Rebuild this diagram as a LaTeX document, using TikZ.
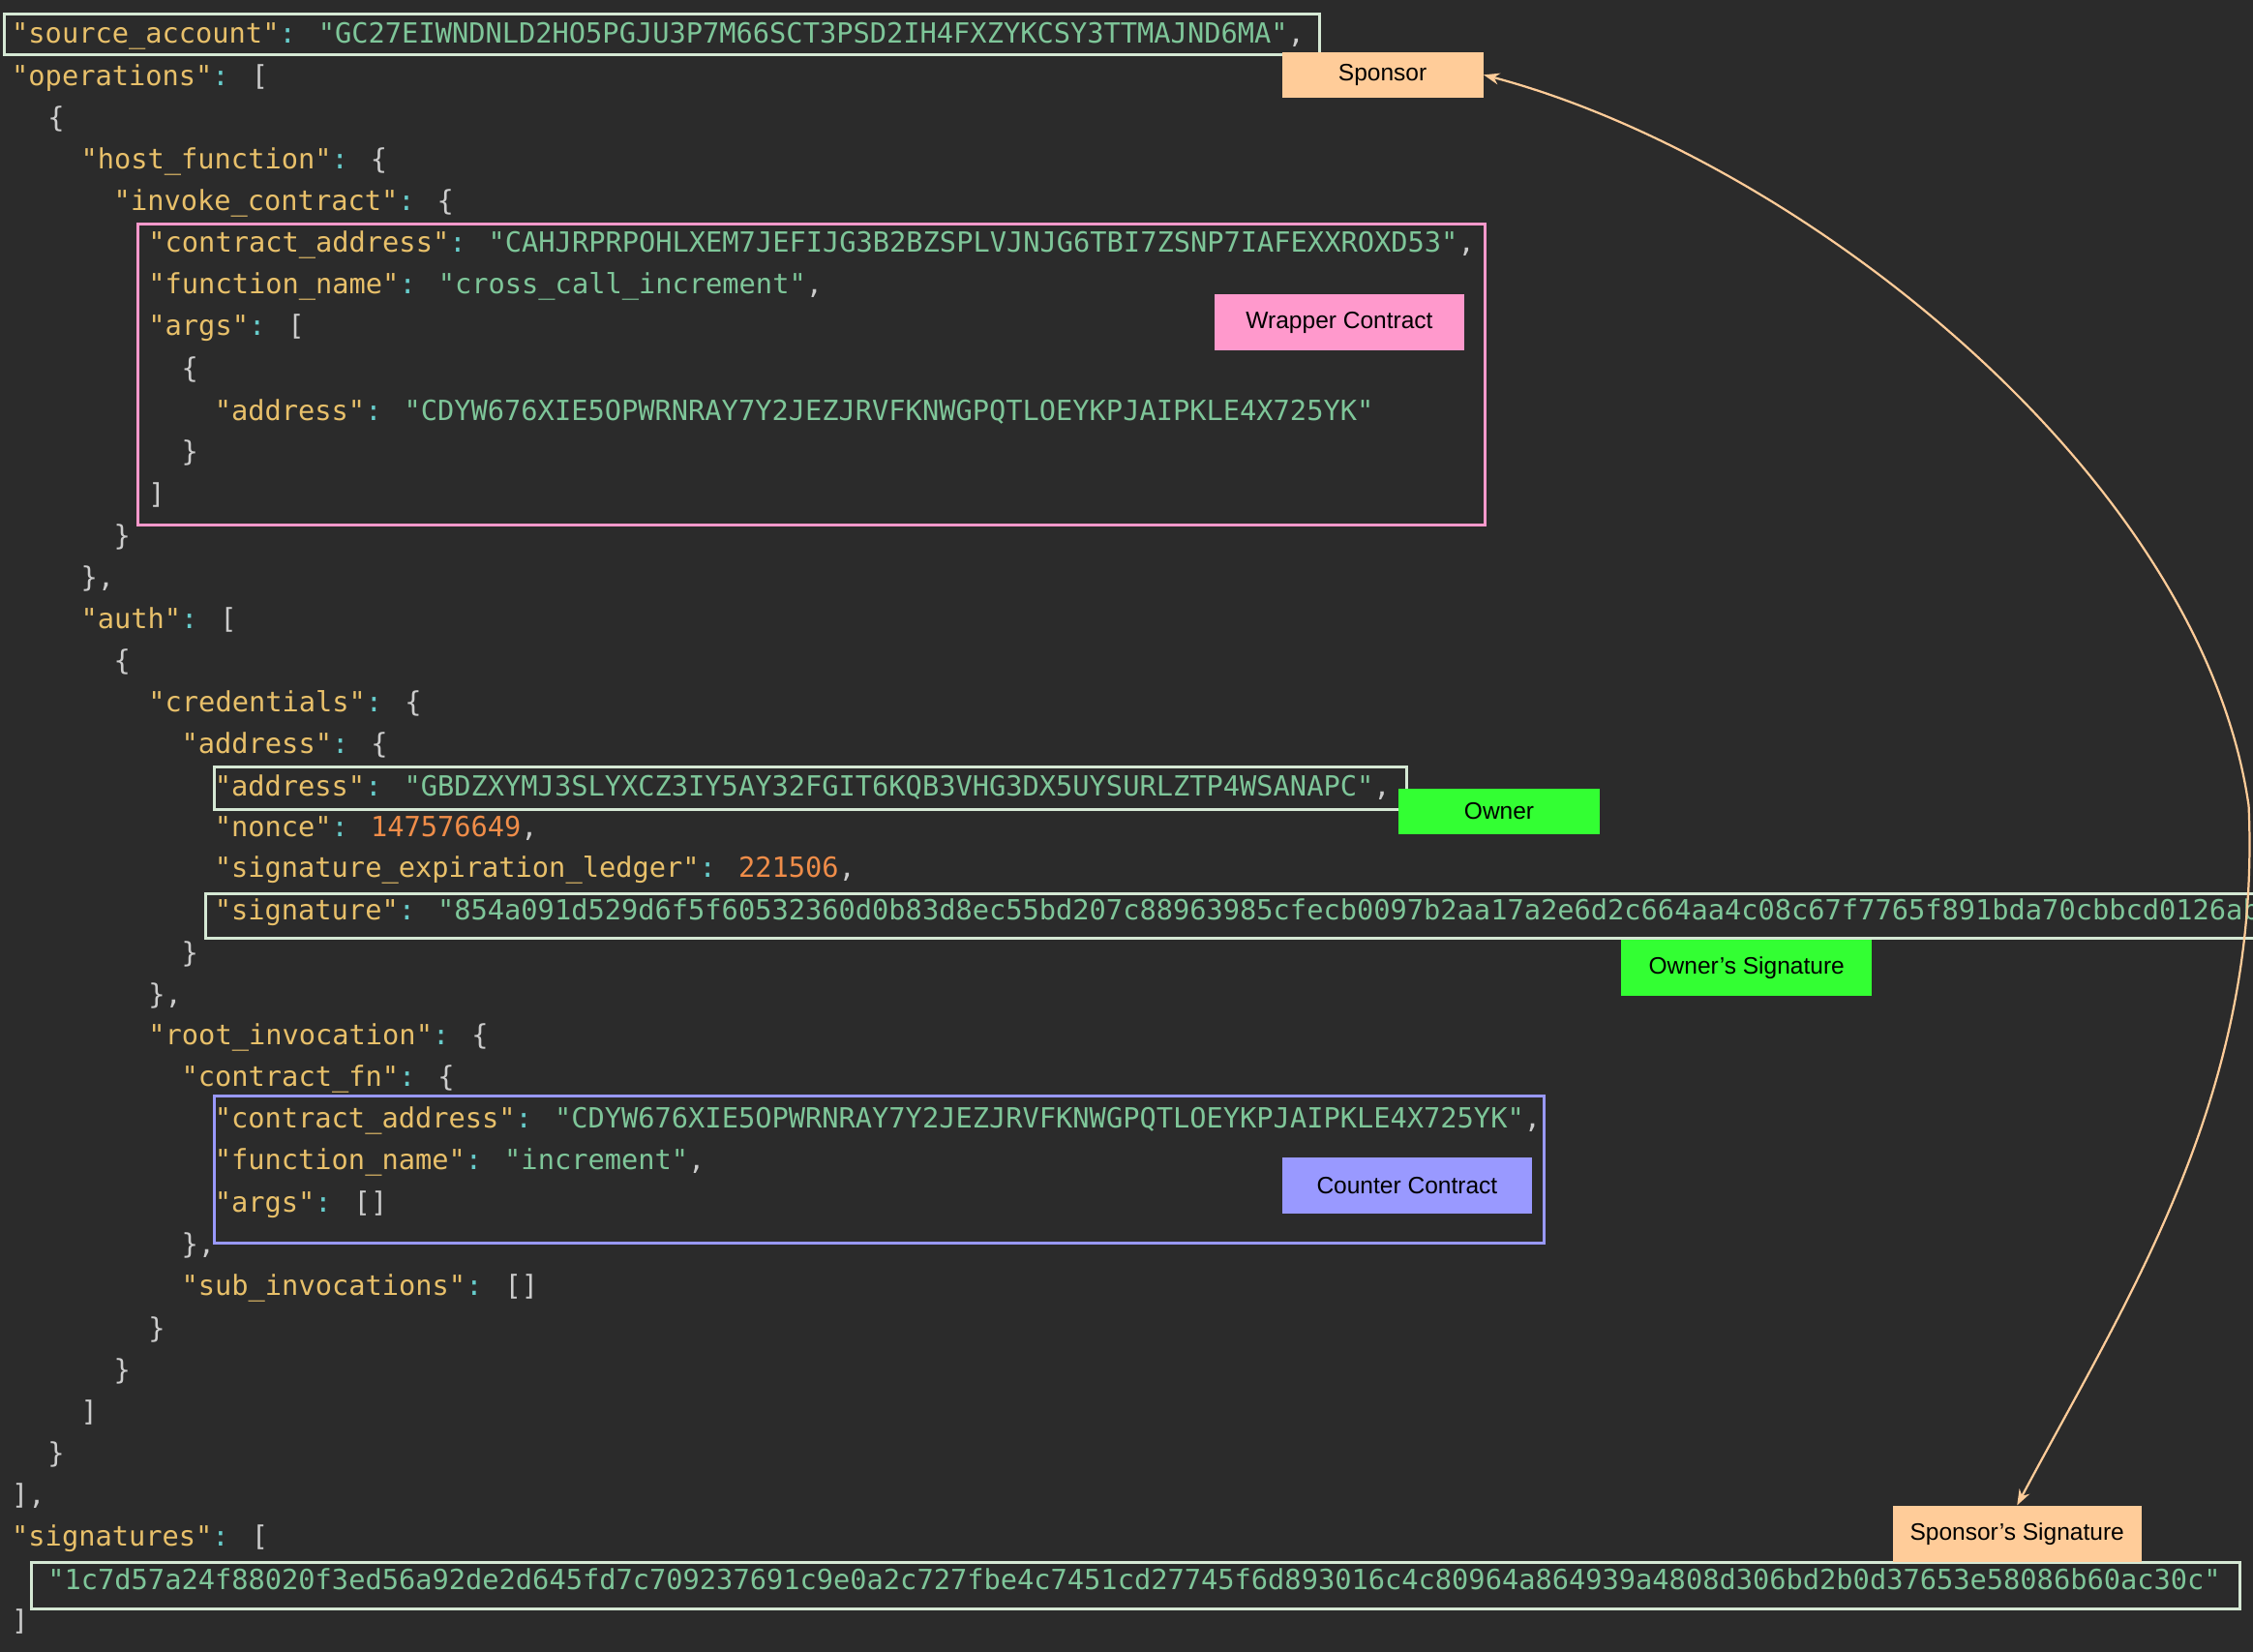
\documentclass[tikz,border=0pt]{standalone}
\usepackage{fontspec}
\usetikzlibrary{arrows.meta}
\newfontfamily\jmono{DejaVu Sans Mono}
\setmainfont{Liberation Sans}
\definecolor{bgc}{HTML}{2B2B2B}
\definecolor{keyc}{HTML}{E8C06A}
\definecolor{strc}{HTML}{7EC699}
\definecolor{numc}{HTML}{F08D49}
\definecolor{colc}{HTML}{67CDCC}
\definecolor{punc}{HTML}{CCCCCC}
\definecolor{boxc}{HTML}{D5E8D4}
\definecolor{peach}{HTML}{FFCC99}
\definecolor{pinkc}{HTML}{FF99CC}
\definecolor{greenc}{HTML}{33FF33}
\definecolor{bluec}{HTML}{9999FF}
\newcommand\jk[1]{\textcolor{keyc}{"#1"}\textcolor{colc}{:}}
\newcommand\js[1]{\textcolor{strc}{"#1"}}
\newcommand\jn[1]{\textcolor{numc}{#1}}
\begin{document}
\begin{tikzpicture}[x=1pt,y=-1pt,
  ln/.style={anchor=west,inner sep=0pt,font=\jmono\fontsize{19.3}{20}\selectfont,text=punc},
  hbox/.style={draw=#1,line width=2pt},
  lab/.style={fill=#1,inner sep=0pt,minimum width=140pt,minimum height=32pt,font=\fontsize{16.5}{18}\selectfont,text=black},
  conn/.style={draw=peach,line width=1.5pt,{Stealth[length=11pt,width=8pt]}-{Stealth[length=11pt,width=8pt]}}]
\fill[bgc] (0,0) rectangle (1566,1148);
\clip (0,0) rectangle (1566,1148);
\node[ln] (l1) at (8,25) {\jk{source\_account} \js{GC27EIWNDNLD2HO5PGJU3P7M66SCT3PSD2IH4FXZYKCSY3TTMAJND6MA},};
\node[ln] (l2) at (8,54) {\jk{operations} [};
\node[ln] (l3) at (33,83) {\{};
\node[ln] (l4) at (56,112) {\jk{host\_function} \{};
\node[ln] (l5) at (79,141) {\jk{invoke\_contract} \{};
\node[ln] (l6) at (103,170) {\jk{contract\_address} \js{CAHJRPRPOHLXEM7JEFIJG3B2BZSPLVJNJG6TBI7ZSNP7IAFEXXROXD53},};
\node[ln] (l7) at (103,199) {\jk{function\_name} \js{cross\_call\_increment},};
\node[ln] (l8) at (103,228) {\jk{args} [};
\node[ln] (l9) at (126,257) {\{};
\node[ln] (l10) at (149,286) {\jk{address} \js{CDYW676XIE5OPWRNRAY7Y2JEZJRVFKNWGPQTLOEYKPJAIPKLE4X725YK}};
\node[ln] (l11) at (126,315) {\}};
\node[ln] (l12) at (103,344) {]};
\node[ln] (l13) at (79,373) {\}};
\node[ln] (l14) at (56,402) {\},};
\node[ln] (l15) at (56,431) {\jk{auth} [};
\node[ln] (l16) at (79,460) {\{};
\node[ln] (l17) at (103,489) {\jk{credentials} \{};
\node[ln] (l18) at (126,518) {\jk{address} \{};
\node[ln] (l19) at (149,547) {\jk{address} \js{GBDZXYMJ3SLYXCZ3IY5AY32FGIT6KQB3VHG3DX5UYSURLZTP4WSANAPC},};
\node[ln] (l20) at (149,576) {\jk{nonce} \jn{147576649},};
\node[ln] (l21) at (149,605) {\jk{signature\_expiration\_ledger} \jn{221506},};
\node[ln] (l22) at (149,634) {\jk{signature} \js{854a091d529d6f5f60532360d0b83d8ec55bd207c88963985cfecb0097b2aa17a2e6d2c664aa4c08c67f7765f891bda70cbbcd0126ab0f5e1c}};
\node[ln] (l23) at (126,663) {\}};
\node[ln] (l24) at (103,692) {\},};
\node[ln] (l25) at (103,721) {\jk{root\_invocation} \{};
\node[ln] (l26) at (126,750) {\jk{contract\_fn} \{};
\node[ln] (l27) at (149,779) {\jk{contract\_address} \js{CDYW676XIE5OPWRNRAY7Y2JEZJRVFKNWGPQTLOEYKPJAIPKLE4X725YK},};
\node[ln] (l28) at (149,808) {\jk{function\_name} \js{increment},};
\node[ln] (l29) at (149,837) {\jk{args} []};
\node[ln] (l30) at (126,866) {\},};
\node[ln] (l31) at (126,895) {\jk{sub\_invocations} []};
\node[ln] (l32) at (103,924) {\}};
\node[ln] (l33) at (79,953) {\}};
\node[ln] (l34) at (56,982) {]};
\node[ln] (l35) at (33,1011) {\}};
\node[ln] (l36) at (8,1040) {],};
\node[ln] (l37) at (8,1069) {\jk{signatures} [};
\node[ln] (l38) at (33,1098) {\js{1c7d57a24f88020f3ed56a92de2d645fd7c709237691c9e0a2c727fbe4c7451cd27745f6d893016c4c80964a864939a4808d306bd2b0d37653e58086b60ac30c}};
\node[ln] (l39) at (8,1127) {]};
% highlight boxes
\draw[hbox=boxc] (3,10) rectangle (917,38);
\draw[hbox=pinkc] (96,156) rectangle (1032,365);
\draw[hbox=boxc] (149,533) rectangle (978,563);
\draw[hbox=boxc] (143,621) rectangle (1570,652);
\draw[hbox=bluec] (149,762) rectangle (1073,864);
\draw[hbox=boxc] (22,1086) rectangle (1557,1118);
% labels
\node[lab=peach] (sponsor) at (961,52) {Sponsor};
\node[lab=pinkc,minimum width=174pt,minimum height=39pt] (wrapper) at (931,224) {Wrapper Contract};
\node[lab=greenc] (owner) at (1042,564) {Owner};
\node[lab=greenc,minimum width=174pt,minimum height=39pt] (ownersig) at (1214,673) {Owner's Signature};
\node[lab=bluec,minimum width=174pt,minimum height=39pt] (counter) at (978,824) {Counter Contract};
\node[lab=peach,minimum width=173pt,minimum height=39pt] (sponsorsig) at (1402,1066) {Sponsor's Signature};
% connector
\coordinate (bend) at (1563,560);
\draw[conn] (sponsor.east) .. controls (1250,110) and (1530,330) .. (bend) .. controls (1572,760) and (1480,900) .. (sponsorsig.north);
\end{tikzpicture}
\end{document}
